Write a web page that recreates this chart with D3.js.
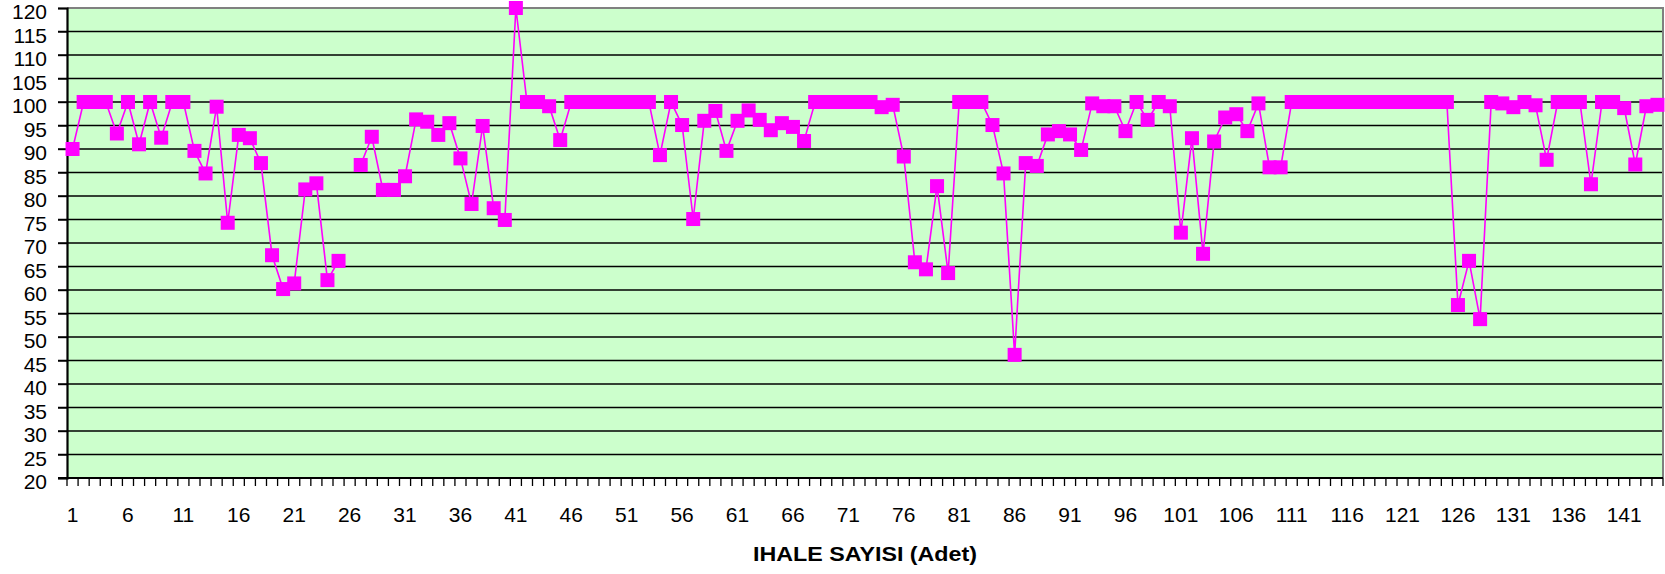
<!DOCTYPE html>
<html>
<head>
<meta charset="utf-8">
<script src="https://cdn.jsdelivr.net/npm/d3@7"></script>
<style>
  html, body { margin: 0; padding: 0; background: #ffffff; }
  svg { display: block; font-family: "Liberation Sans", Arial, sans-serif; }
</style>
</head>
<body>
<svg id="chart" width="1665" height="574"></svg>
<script>
// ---- data ----
const categories = d3.range(1, 145);
const values = [
  90, 100, 100, 100, 93.3, 100, 91, 100, 92.4, 100,
  100, 89.6, 84.8, 99, 74.3, 93, 92.3, 87, 67.4, 60.2,
  61.4, 81.4, 82.7, 62.1, 66.2, null, 86.6, 92.6, 81.3, 81.3,
  84.2, 96.3, 95.8, 93, 95.5, 88, 78.3, 94.9, 77.4, 74.9,
  120, 100, 100, 99.1, 91.9, 100, 100, 100, 100, 100,
  100, 100, 100, 88.7, 100, 95.1, 75.1, 96, 98.1, 89.6,
  96, 98.2, 96.2, 94, 95.5, 94.7, 91.7, 100, 100, 100,
  100, 100, 100, 98.9, 99.4, 88.4, 65.9, 64.4, 82.1, 63.6,
  100, 100, 100, 95.1, 84.8, 46.2, 87, 86.4, 93.1, 93.8,
  93.1, 89.8, 99.7, 99.1, 99.1, 93.8, 100, 96.2, 100, 99.1,
  72.2, 92.3, 67.7, 91.6, 96.7, 97.4, 93.8, 99.7, 86.1, 86.1,
  100, 100, 100, 100, 100, 100, 100, 100, 100, 100,
  100, 100, 100, 100, 100, 56.8, 66.2, 53.8, 100, 99.7,
  98.9, 100, 99.3, 87.7, 100, 100, 100, 82.5, 100, 100,
  98.7, 86.7, 99.1, 99.4
];
const yTicks = d3.range(20, 121, 5);
const xLabelCats = categories.filter(c => (c - 1) % 5 === 0);
const xTitle = "IHALE SAYISI (Adet)";

(function () {
// ---- layout ----
const svg = d3.select("#chart");
const pL = 67, pR = 1663, pT = 8, pB = 478;

const x = d3.scaleBand().domain(categories).range([pL, pR]).padding(0);
const y = d3.scaleLinear().domain([20, 120]).range([pB, pT]);
const cx = c => x(c) + x.bandwidth() / 2;

// plot background
svg.append("rect")
  .attr("x", pL).attr("y", pT)
  .attr("width", pR - pL).attr("height", pB - pT)
  .attr("fill", "#CCFFCC");

// horizontal gridlines (with left tick extension)
svg.append("g").selectAll("line")
  .data(yTicks.filter(t => t > 20 && t < 120))
  .join("line")
  .attr("x1", pL - 9).attr("x2", pR)
  .attr("y1", d => y(d)).attr("y2", d => y(d))
  .attr("stroke", "#000").attr("stroke-width", 1.4);

// top & right border (grey)
svg.append("line").attr("x1", pL).attr("x2", pR + 1)
  .attr("y1", pT).attr("y2", pT)
  .attr("stroke", "#808080").attr("stroke-width", 2);
svg.append("line").attr("x1", pR).attr("x2", pR)
  .attr("y1", pT).attr("y2", pB)
  .attr("stroke", "#808080").attr("stroke-width", 2);

// y axis
const yAxis = d3.axisLeft(y).tickValues(yTicks).tickSize(9).tickPadding(11);
const gy = svg.append("g").attr("transform", `translate(${pL},0)`).call(yAxis);
gy.select(".domain").attr("stroke", "#000").attr("stroke-width", 2.2);
gy.selectAll(".tick line").attr("stroke", "#000").attr("stroke-width", 1.4);
gy.selectAll(".tick text")
  .attr("font-size", 21).attr("fill", "#000")
  .attr("font-family", "Liberation Sans, Arial, sans-serif")
  .attr("dy", "0.5em");

// x axis line
svg.append("line").attr("x1", pL - 9).attr("x2", pR)
  .attr("y1", pB).attr("y2", pB)
  .attr("stroke", "#000").attr("stroke-width", 2);

// x ticks at category boundaries
const boundaries = categories.map(c => x(c)).concat([pR]);
svg.append("g").selectAll("line")
  .data(boundaries)
  .join("line")
  .attr("x1", d => d).attr("x2", d => d)
  .attr("y1", pB).attr("y2", pB + 8)
  .attr("stroke", "#000").attr("stroke-width", 1.3);

// x labels
svg.append("g").selectAll("text")
  .data(xLabelCats)
  .join("text")
  .attr("x", d => cx(d))
  .attr("y", 522)
  .attr("text-anchor", "middle")
  .attr("font-size", 21)
  .attr("fill", "#000")
  .text(d => d);

// x title
svg.append("text")
  .attr("x", (pL + pR) / 2)
  .attr("y", 561)
  .attr("text-anchor", "middle")
  .attr("font-size", 21)
  .attr("font-weight", "bold")
  .attr("fill", "#000")
  .attr("textLength", 224)
  .attr("lengthAdjust", "spacingAndGlyphs")
  .text(xTitle);

// line
const pts = categories.map((c, i) => ({ c, v: values[i] }));
const line = d3.line()
  .defined(d => d.v !== null)
  .x(d => cx(d.c))
  .y(d => y(d.v));
svg.append("path")
  .datum(pts)
  .attr("d", line)
  .attr("fill", "none")
  .attr("stroke", "#FF00FF")
  .attr("stroke-width", 1.6);

// markers
const ms = 14;
svg.append("g").selectAll("rect")
  .data(pts.filter(d => d.v !== null))
  .join("rect")
  .attr("x", d => cx(d.c) - ms / 2)
  .attr("y", d => y(d.v) - ms / 2)
  .attr("width", ms).attr("height", ms)
  .attr("fill", "#FF00FF");
})();
</script>
</body>
</html>
